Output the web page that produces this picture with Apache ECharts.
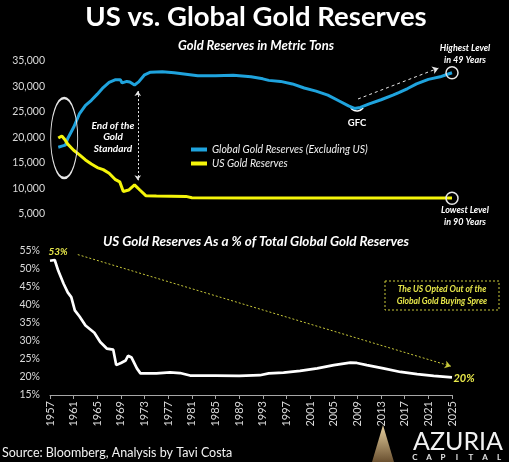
<!DOCTYPE html>
<html><head><meta charset="utf-8">
<script src="https://cdn.jsdelivr.net/npm/echarts@6/dist/echarts.min.js"></script>
<style>html,body{margin:0;padding:0;background:#000}#c{width:509px;height:462px}</style>
</head><body><div id="c"></div>
<script>
// ---- data ----
const globalYears = [1958.4,1959,1959.6,1960,1961,1962,1963,1964,1965,1966,1967,1968,1968.9,1969.2,1970,1970.5,1971.3,1972,1973,1974,1976,1978,1980,1982,1985,1988,1991,1993,1994,1996,1998,2000,2002,2004,2006,2007.5,2008.5,2009.5,2011,2013,2015,2016,2017.5,2019,2021,2023,2024,2025];
const globalTons  = [18100,18300,18500,19800,22000,24700,26300,27300,28500,29800,30800,31300,31300,30700,31000,30900,30300,30900,32300,32800,32900,32700,32400,32100,32100,32200,31900,31500,31200,31000,30500,29700,29100,28300,27100,26200,25700,25900,26600,27400,28300,28800,29600,30500,31400,31900,32300,32700];
const usYears = [1958.4,1959,1959.5,1960,1961,1962,1963,1964,1965,1966,1967,1968,1968.8,1969.4,1970.3,1971.3,1972.2,1973.2,1975,1980,1981,1990,2000,2010,2025];
const usTons  = [19900,20300,19600,18700,17500,16600,15600,14800,14100,13700,13000,11800,11300,9400,9700,10700,9700,8600,8550,8450,8200,8150,8140,8133,8133];
const pctYears = [1957,1957.8,1958.4,1959.3,1960,1960.6,1961.2,1962,1963,1964.5,1965.5,1966.6,1967.7,1968.2,1969,1969.8,1970.2,1970.8,1971.7,1972.3,1975,1977.3,1979,1980.7,1985,1989,1992.5,1994,1996.5,1999.3,2002.2,2005,2007.8,2008.9,2010.6,2013.4,2016.3,2019.1,2021.9,2025];
const usPct    = [52.3,52.5,49.5,45.9,43.5,42.2,38.5,36.8,34.3,32.3,29.7,27.9,27.6,23.3,23.9,24.6,25.9,25.4,22.4,21.0,21.0,21.3,21.1,20.4,20.4,20.3,20.5,21.0,21.2,21.7,22.4,23.3,24.0,23.9,23.3,22.4,21.4,20.8,20.3,19.9];
const seriesNames = ['Global Gold Reserves (Excluding US)','US Gold Reserves','US Gold Reserves %'];
const yearMin = 1957, yearMax = 2025, yearStep = 4;
const tonMin = 5000, tonMax = 35000, tonStep = 5000;
const pctMin = 15, pctMax = 55, pctStep = 5;

const F = 'Lato, "Open Sans", sans-serif';
const pairs = (xs, ys) => xs.map((x, i) => [x, ys[i]]);
const hollow = (coord, size) => ({coord, symbol:'circle', symbolSize:size,
  itemStyle:{color:'rgba(0,0,0,0)', borderColor:'#e6e6e6', borderWidth:1.5}, label:{show:false}});

const chart = echarts.init(document.getElementById('c'));
const txt = (x, y, text, o) => Object.assign({type:'text', x, y, silent:true,
  style:Object.assign({text, fill:'#fff', font:'italic bold 10px '+F, align:'center', verticalAlign:'middle'}, o||{})});

chart.setOption({
  backgroundColor:'#000',
  animation:false,
  textStyle:{fontFamily:F},
  grid:[{left:50,right:57,top:61,height:153},{left:50,right:57,top:251,height:144}],
  xAxis:[
    {gridIndex:0,type:'value',min:yearMin,max:yearMax,show:false},
    {gridIndex:1,type:'value',min:yearMin,max:yearMax,interval:yearStep,
     axisLine:{show:true,onZero:false,lineStyle:{color:'#a6a6a6',width:1}},
     axisTick:{show:true,length:4,lineStyle:{color:'#a6a6a6'}},
     splitLine:{show:false},
     axisLabel:{rotate:90,color:'#d9d9d9',fontSize:11,margin:6,fontFamily:F,formatter:v=>String(v)}}
  ],
  yAxis:[
    {gridIndex:0,type:'value',min:tonMin,max:tonMax,interval:tonStep,
     axisLine:{show:false},axisTick:{show:false},splitLine:{show:false},
     axisLabel:{color:'#d9d9d9',fontSize:10.5,margin:5,fontFamily:F,formatter:v=>v.toLocaleString('en-US')}},
    {gridIndex:1,type:'value',min:pctMin,max:pctMax,interval:pctStep,
     axisLine:{show:false},axisTick:{show:false},splitLine:{show:false},
     axisLabel:{color:'#d9d9d9',fontSize:10.5,margin:10,fontFamily:F,formatter:'{value}%'}}
  ],
  legend:{data:seriesNames.slice(0,2),orient:'vertical',left:186,top:139,itemWidth:16,itemHeight:4,itemGap:3,icon:'rect',
    textStyle:{color:'#f0f0f0',fontStyle:'italic',fontSize:10.5,fontFamily:F}},
  series:[
    {name:seriesNames[0],type:'line',xAxisIndex:0,yAxisIndex:0,data:pairs(globalYears,globalTons),
     showSymbol:false,symbol:'none',lineStyle:{color:'#1fa3dd',width:3},itemStyle:{color:'#1fa3dd'},
     markPoint:{silent:true,data:[hollow([2025,32700],12)]},
     markLine:{silent:true,symbol:['none','arrow'],symbolSize:6,label:{show:false},
       lineStyle:{type:[3,3],color:'#e6e6e6',width:1},
       data:[[{coord:[2009.1,27550]},{coord:[2022.7,33600]}]]}},
    {name:seriesNames[1],type:'line',xAxisIndex:0,yAxisIndex:0,data:pairs(usYears,usTons),
     showSymbol:false,symbol:'none',lineStyle:{color:'#f5f50a',width:3},itemStyle:{color:'#f5f50a'},
     markPoint:{silent:true,data:[hollow([2025,8100],12),hollow([1959.4,19900],[27,80])]},
     markLine:{silent:true,symbol:['arrow','arrow'],symbolSize:5,label:{show:false},
       lineStyle:{type:[2,2],color:'#e6e6e6',width:1},
       data:[[{coord:[1971.85,29100]},{coord:[1971.85,11600]}]]}},
    {name:seriesNames[2],type:'line',xAxisIndex:1,yAxisIndex:1,data:pairs(pctYears,usPct),
     showSymbol:false,symbol:'none',lineStyle:{color:'#ffffff',width:2.7},itemStyle:{color:'#fff'},
     markLine:{silent:true,symbol:['none','arrow'],symbolSize:6,label:{show:false},
       lineStyle:{type:[2,2],color:'#c8c83a',width:1},
       data:[[{coord:[1961.7,54.0]},{coord:[2024.8,23.0]}]]}}
  ],
  graphic:[
    txt(256,17,'US vs. Global Gold Reserves',{font:'bold 27.5px '+F}),
    txt(256,46,'Gold Reserves in Metric Tons',{font:'italic bold 13px '+F}),
    txt(256,242,'US Gold Reserves As a % of Total Global Gold Reserves',{font:'italic bold 13.5px '+F}),
    txt(113,137,'End of the\nGold\nStandard',{lineHeight:11.5}),
    txt(357,123,'GFC',{font:'bold 9.5px '+F}),
    {type:'arc',silent:true,shape:{cx:357,cy:103,r:8,startAngle:Math.PI*0.22,endAngle:Math.PI*0.78},style:{stroke:'#fff',lineWidth:1.5,fill:null}},
    txt(465,54,'Highest Level\nin 49 Years',{font:'italic bold 9px '+F,lineHeight:11.5}),
    txt(465,216,'Lowest Level\nin 90 Years',{font:'italic bold 9px '+F,lineHeight:11.5}),
    txt(58,252,'53%',{fill:'#e8e84a',font:'italic bold 10px '+F}),
    txt(464,378,'20%',{fill:'#e8e84a',font:'italic bold 11px '+F}),
    {type:'rect',silent:true,shape:{x:385,y:281,width:114,height:29},style:{fill:'rgba(0,0,0,0)',stroke:'#c8c83a',lineWidth:1,lineDash:[2,2]}},
    txt(442,295.5,'The US Opted Out of the\nGlobal Gold Buying Spree',{fill:'#e8e84a',font:'italic bold 8.5px '+F,lineHeight:11.5}),
    txt(2,453,'Source: Bloomberg, Analysis by Tavi Costa',{font:'12.5px '+F,align:'left',fill:'#f2f2f2'}),
    {type:'polygon',silent:true,shape:{points:[[372,462],[383,425],[394,462]]},
     style:{fill:new echarts.graphic.LinearGradient(0,0,0,1,[{offset:0,color:'#e8d2a0'},{offset:1,color:'#6a5030'}])}},
    txt(458,442,'AZURIA',{font:'25px '+F,fill:'#f2f2f2'}),
    ...['C','A','P','I','T','A','L'].map((ch,i)=>txt(415+i*14,457,ch,{font:'bold 8px '+F,fill:'#e6e6e6'}))
  ]
});
</script></body></html>
